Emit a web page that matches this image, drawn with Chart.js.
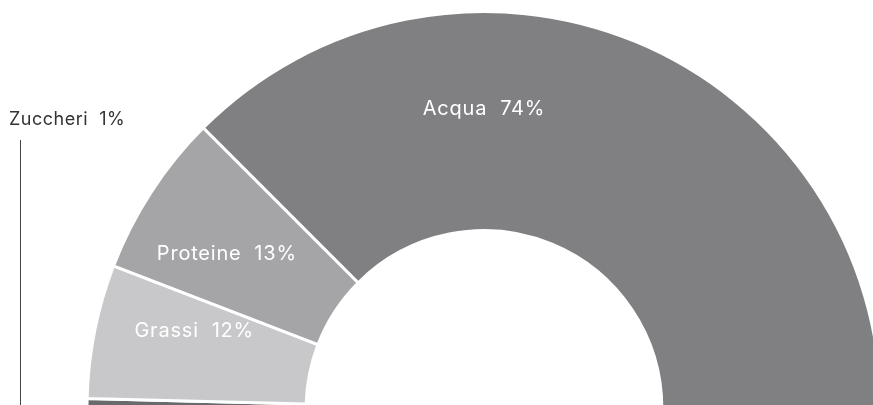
<!doctype html>
<html>
<head>
  <meta charset="utf-8" />
  <title>Composizione</title>
  <script src="https://cdn.jsdelivr.net/npm/chart.js"></script>
  <style>
    html,body{margin:0;padding:0;background:#fff;overflow:hidden;width:873px;height:405px}
    #wrap{position:absolute;left:0;top:0;width:968px;height:420px}
  </style>
</head>
<body>
  <div id="wrap"><canvas id="chart"></canvas></div>
  <script>
    // data, from the left end of the half ring to the right
    const categories = ['Zuccheri', 'Grassi', 'Proteine', 'Acqua'];
    const sliceValues = [0.8, 10.9, 13.3, 75.0];   // measured from the slice angles
    const shownPercent = [1, 12, 13, 74];          // as printed on the labels
    const sliceColors = ['#6a6a6d', '#c8c8ca', '#a5a5a8', '#808083'];

    // where each label sits: degrees from the left end, clockwise; null = outside callout
    const labelAngles = [null, 15, 31, 90];

    const labelPlugin = {
      id: 'sliceLabels',
      afterDatasetsDraw(chart) {
        const ctx = chart.ctx;
        const arcs = chart.getDatasetMeta(0).data;
        ctx.save();
        ctx.textBaseline = 'middle';
        arcs.forEach((arc, i) => {
          const text = categories[i] + '  ' + shownPercent[i] + '%';
          const a = labelAngles[i];
          if (a === null) {
            ctx.font = '18px Inter, "Noto Sans", sans-serif';
            ctx.letterSpacing = '0.5px';
            ctx.fillStyle = '#333';
            ctx.textAlign = 'left';
            ctx.fillText(text, 9, 120);
            ctx.strokeStyle = '#444';
            ctx.lineWidth = 1;
            ctx.beginPath();
            ctx.moveTo(20.5, 140);
            ctx.lineTo(20.5, 405);
            ctx.stroke();
            return;
          }
          const r = 300;
          const rad = Math.PI + a * Math.PI / 180;
          ctx.font = '20px Inter, "Noto Sans", sans-serif';
          ctx.letterSpacing = '0.8px';
          ctx.fillStyle = '#fff';
          ctx.textAlign = 'center';
          ctx.fillText(text, arc.x + r * Math.cos(rad), arc.y + r * Math.sin(rad));
        });
        ctx.restore();
      }
    };

    new Chart(document.getElementById('chart'), {
      type: 'doughnut',
      data: {
        labels: categories,
        datasets: [{
          data: sliceValues,
          backgroundColor: sliceColors,
          borderColor: '#fff',
          borderWidth: 3
        }]
      },
      options: {
        responsive: true,
        maintainAspectRatio: false,
        animation: false,
        rotation: -90,
        circumference: 180,
        radius: 397,
        cutout: '44.8%',
        layout: { padding: 0 },
        plugins: { legend: { display: false }, tooltip: { enabled: false } }
      },
      plugins: [labelPlugin]
    });
  </script>
</body>
</html>
